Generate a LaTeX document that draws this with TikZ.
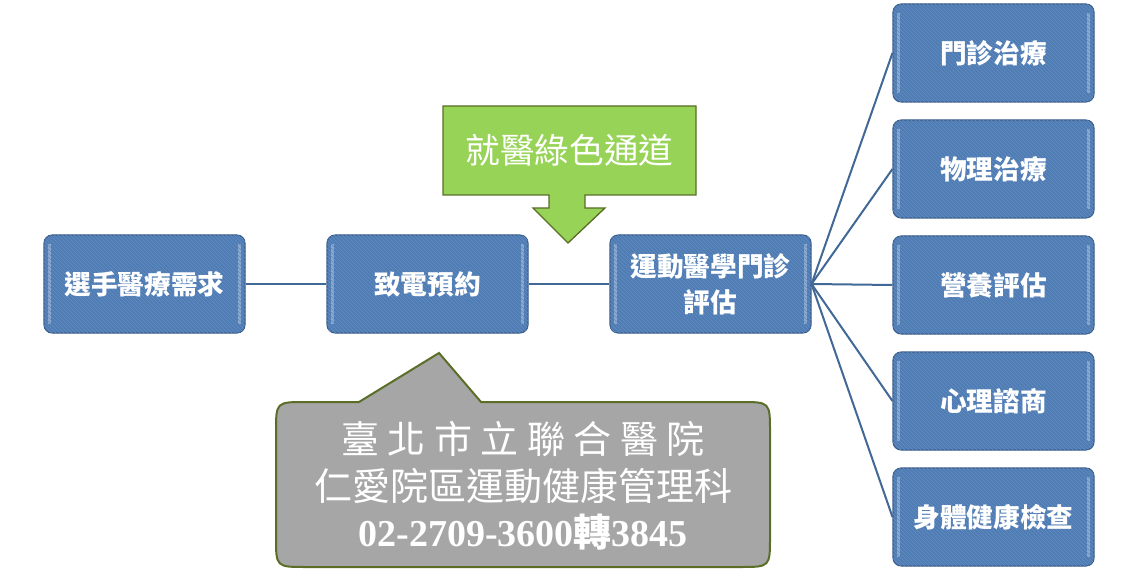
\documentclass[tikz,border=0pt]{standalone}
\usepackage{fontspec}
\newfontfamily\cjk{Noto Sans CJK TC}
\newfontfamily\numfont{Liberation Serif}
\usetikzlibrary{patterns}

\definecolor{boxblue}{RGB}{80,124,180}
\definecolor{boxedge}{RGB}{58,92,138}
\definecolor{stripe}{RGB}{100,142,194}
\definecolor{linkblue}{RGB}{66,104,150}
\definecolor{callgreen}{RGB}{150,211,86}
\definecolor{callgray}{RGB}{166,166,166}
\definecolor{olive}{RGB}{90,110,40}

\begin{document}
\begin{tikzpicture}[x=0.75pt,y=-0.75pt,thick,
  main node/.style={rectangle,rounded corners=6pt,fill=boxblue,draw=boxedge,
    postaction={pattern=north west lines,pattern color=stripe},
    path picture={
      \draw[white,opacity=0.35,line width=2.5pt]
        ([xshift=4pt,yshift=-7pt]path picture bounding box.north west)
        -- ([xshift=4pt,yshift=7pt]path picture bounding box.south west);
      \draw[white,opacity=0.35,line width=2.5pt]
        ([xshift=-4pt,yshift=-7pt]path picture bounding box.north east)
        -- ([xshift=-4pt,yshift=7pt]path picture bounding box.south east);},
    text=white,font=\cjk\bfseries\fontsize{20}{27}\selectfont,align=center,
    minimum width=150.75pt,minimum height=73.5pt,inner sep=0pt},
  link/.style={draw=linkblue,line width=1.5pt},
  call text/.style={text=white,font=\cjk\fontsize{28.5}{35}\selectfont,align=center}]

  \useasboundingbox (0,0) rectangle (1138,577);

  % green callout
  \filldraw[fill=callgreen,draw=olive,line width=1pt]
    (443,106) -- (696,106) -- (696,195) -- (585,195) -- (585,208) -- (605,208)
    -- (568,243) -- (533,208) -- (549,208) -- (549,195) -- (443,195) -- cycle;
  \node[call text,font=\cjk\fontsize{26}{30}\selectfont] (green) at (569.5,150) {就醫綠色通道};

  % gray callout
  \filldraw[fill=callgray,draw=olive,line width=1.5pt]
    (481,402) -- (740,402) .. controls (770,402) .. (770,432) -- (770,537)
    .. controls (770,567) .. (740,567) -- (306,567) .. controls (276,567) .. (276,537)
    -- (276,432) .. controls (276,402) .. (306,402) -- (359,402) -- (439,353) -- cycle;
  \node[call text] (dept) at (523,486)
    {臺 北 市 立 聯 合 醫 院\\仁愛院區運動健康管理科\\{\bfseries\numfont 02-2709-3600}{\bfseries 轉}{\bfseries\numfont 3845}};

  \node[main node] (need) at (144.5,284) {選手醫療需求};
  \node[main node] (call) at (427.5,284) {致電預約};
  \node[main node] (clinic) at (710.5,284) {運動醫學門診\\評估};
  \node[main node] (t1) at (993.5,53) {門診治療};
  \node[main node] (t2) at (993.5,169) {物理治療};
  \node[main node] (t3) at (993.5,285) {營養評估};
  \node[main node] (t4) at (993.5,401) {心理諮商};
  \node[main node] (t5) at (993.5,517) {身體健康檢查};

  \path[link]
    (need) edge (call)
    (call) edge (clinic)
    (clinic.east) edge (t1.west)
    (clinic.east) edge (t2.west)
    (clinic.east) edge (t3.west)
    (clinic.east) edge (t4.west)
    (clinic.east) edge (t5.west)
    ;
\end{tikzpicture}
\end{document}
